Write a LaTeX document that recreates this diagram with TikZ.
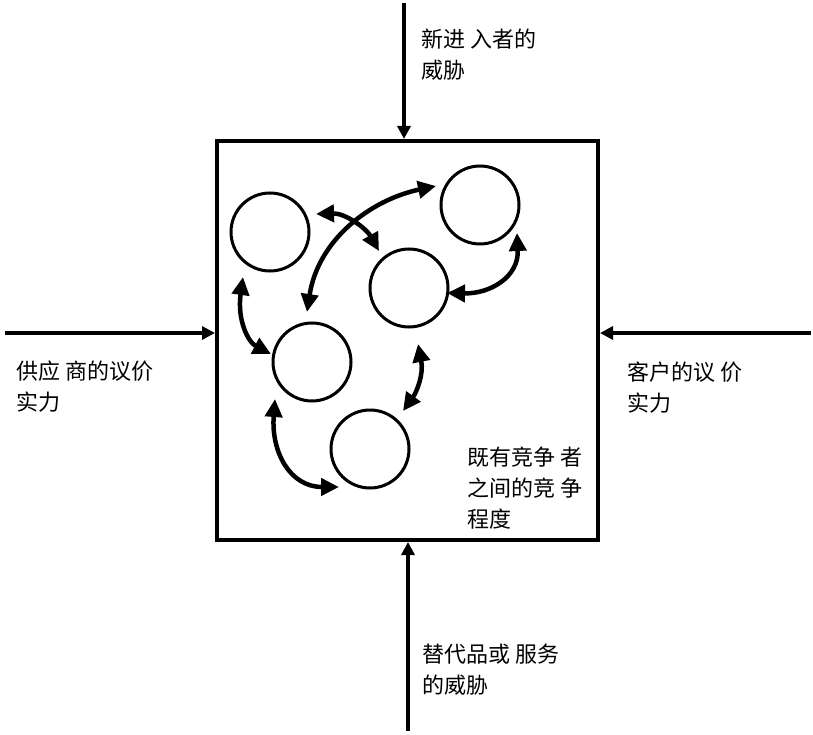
\documentclass[tikz,border=0pt]{standalone}
\usepackage{fontspec}
\newfontfamily\cjk{Noto Sans CJK SC}
\usetikzlibrary{arrows.meta}
\begin{document}
\begin{tikzpicture}[x=1pt,y=-1pt,
  firm/.style={circle,draw,line width=3pt,minimum size=78pt,inner sep=0pt},
  rivalry/.style={line width=4.5pt,{Triangle[length=18pt,width=17pt]}-{Triangle[length=18pt,width=17pt]}},
  force/.style={line width=4.5pt,-{Triangle[length=13pt,width=13pt]}},
  lbl/.style={anchor=north west,inner sep=0pt,align=left,font=\cjk\fontsize{22}{31}\selectfont}]
\useasboundingbox (0,0) rectangle (813,735);
% industry box
\node[draw,line width=4pt,minimum width=381pt,minimum height=399pt,inner sep=0pt] (box) at (407.5,340.5) {};
% competitors
\node[firm] (c1) at (270,232) {};
\node[firm] (c2) at (480,205) {};
\node[firm] (c3) at (409,288) {};
\node[firm] (c4) at (312,362) {};
\node[firm] (c5) at (370,449) {};
% arrow ends
\coordinate (a1s) at (316,214); \coordinate (a1e) at (379,251);
\coordinate (a2s) at (436,186); \coordinate (a2e) at (307,312);
\coordinate (a3s) at (243,277); \coordinate (a3e) at (271,354);
\coordinate (a4s) at (517,233); \coordinate (a4e) at (447,293);
\coordinate (a5s) at (418,344); \coordinate (a5e) at (403,411);
\coordinate (a6s) at (275,399); \coordinate (a6e) at (339,487);
\draw[rivalry] (a1s) .. controls (345,213) and (366,228) .. (a1e);
\draw[rivalry] (a2s) .. controls (370,200) and (318,240) .. (a2e);
\draw[rivalry] (a3s) .. controls (237,320) and (248,342) .. (a3e);
\draw[rivalry] (a4s) .. controls (519,277) and (490,294) .. (a4e);
\draw[rivalry] (a5s) .. controls (424,375) and (416,393) .. (a5e);
\draw[rivalry] (a6s) .. controls (271,452) and (290,487) .. (a6e);
% five forces
\coordinate (tops) at (404,3);
\coordinate (lefts) at (5,333);
\coordinate (rights) at (811,333);
\coordinate (bots) at (408,731);
\draw[force] (tops) -- (tops |- box.north);
\draw[force] (lefts) -- (lefts -| box.west);
\draw[force] (rights) -- (rights -| box.east);
\draw[force] (bots) -- (bots |- box.south);
% labels
\node[lbl] (tl) at (421,29) {新进 入者的\\威胁};
\node[lbl] (ll) at (16,361) {供应 商的议价\\实力};
\node[lbl] (rl) at (627,362) {客户的议 价\\实力};
\node[lbl] (bl) at (422,644) {替代品或 服务\\的威胁};
\node[lbl] (il) at (467,447) {既有竞争 者\\之间的竞 争\\程度};
\end{tikzpicture}
\end{document}
